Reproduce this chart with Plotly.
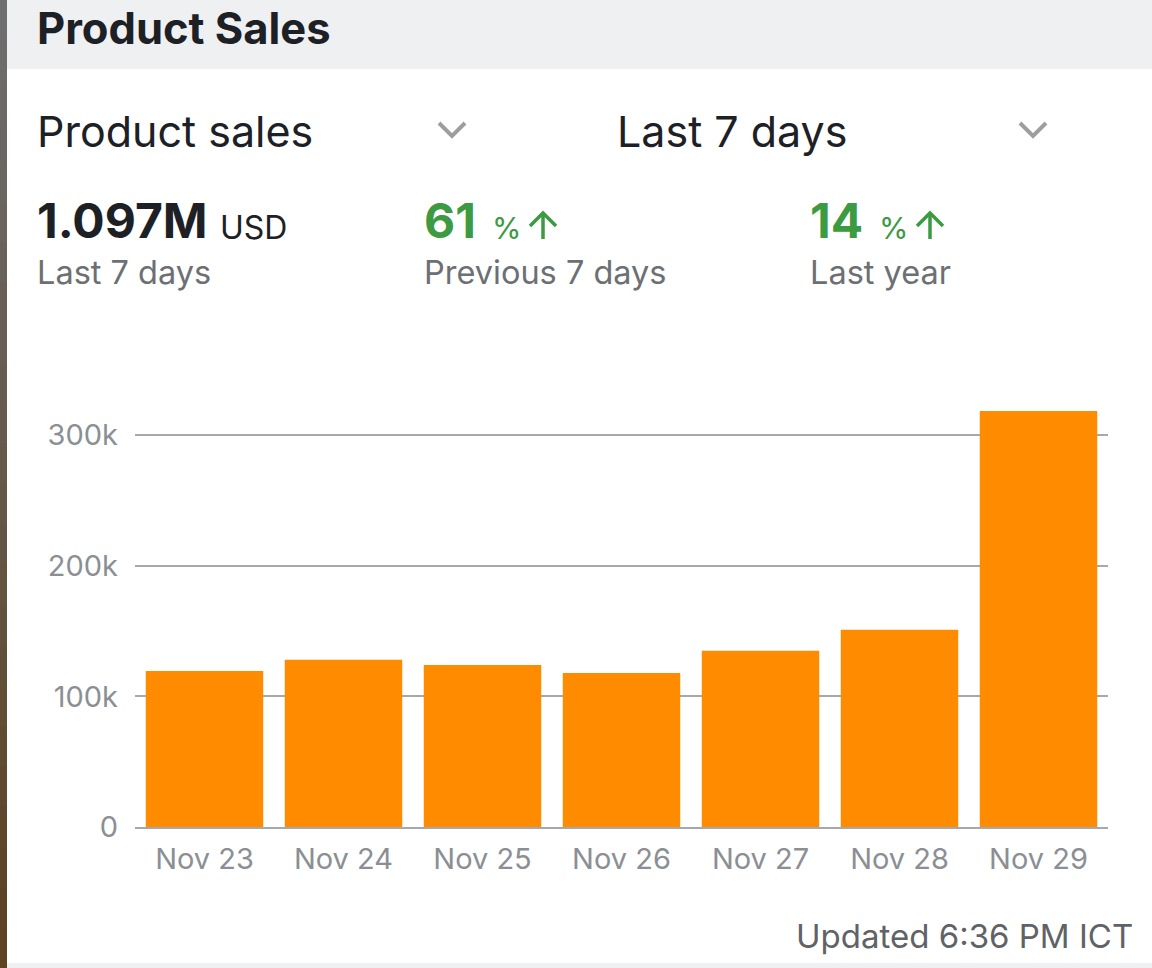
import plotly.graph_objects as go

# ---- data ----
dates = ["Nov 23", "Nov 24", "Nov 25", "Nov 26", "Nov 27", "Nov 28", "Nov 29"]
sales = [119500, 128000, 124000, 118000, 135000, 151000, 318500]
ytick_vals = [0, 100000, 200000, 300000]
ytick_text = ["0", "100k", "200k", "300k"]

W, H = 1152, 968
L, R = 135, 1108          # plot area x pixels
TOP, BOT = 383, 827       # plot area y pixels
YMAX = 340000

def px(x):
    return (x - L) / (R - L)

def py(y):
    return (BOT - y) / (BOT - TOP)

FONT = "Inter"
DARK = "#1d2125"
GRAY = "#6c6f73"
GREEN = "#3c9a41"

fig = go.Figure()
fig.add_trace(go.Bar(x=dates, y=sales, marker=dict(color="#ff8c00", line=dict(width=0)),
                     hoverinfo="x+y"))

shapes = []
# header band
shapes.append(dict(type="rect", xref="paper", yref="paper", x0=px(0), x1=px(W), y0=py(69), y1=py(0),
                   fillcolor="#eff0f2", line=dict(width=0), layer="below"))
# bottom band
shapes.append(dict(type="rect", xref="paper", yref="paper", x0=px(0), x1=px(W), y0=py(H), y1=py(963),
                   fillcolor="#eff0f2", line=dict(width=0), layer="below"))
# left stripe (gray to brown)
n = 24
c0 = (110, 110, 110)
c1 = (92, 67, 34)
for i in range(n):
    t = i / (n - 1)
    c = tuple(int(c0[k] + (c1[k] - c0[k]) * t) for k in range(3))
    shapes.append(dict(type="rect", xref="paper", yref="paper", x0=px(0), x1=px(7),
                       y0=py(H * (i + 1) / n + 1), y1=py(H * i / n),
                       fillcolor="rgb(%d,%d,%d)" % c, line=dict(width=0), layer="above"))
# chevrons
for cx in (452, 1033):
    path = "M %f %f L %f %f L %f %f" % (px(cx - 13), py(123), px(cx), py(136), px(cx + 13), py(123))
    shapes.append(dict(type="path", xref="paper", yref="paper", path=path,
                       line=dict(color="#9c9ea1", width=4)))
# up arrows
for ax in (543, 930):
    shapes.append(dict(type="line", xref="paper", yref="paper", x0=px(ax), x1=px(ax), y0=py(239), y1=py(213),
                       line=dict(color=GREEN, width=3.5)))
    path = "M %f %f L %f %f L %f %f" % (px(ax - 13), py(226), px(ax), py(213), px(ax + 13), py(226))
    shapes.append(dict(type="path", xref="paper", yref="paper", path=path,
                       line=dict(color=GREEN, width=3.5)))

ann = []
def text(x, y, s, size, color, anchor="left", bold=False):
    ann.append(dict(xref="paper", yref="paper", x=px(x), y=py(y), text=("<b>%s</b>" % s) if bold else s,
                    showarrow=False, xanchor=anchor, yanchor="middle",
                    font=dict(family=FONT, size=size, color=color)))

text(35, 28, "Product Sales", 43.5, DARK, bold=True)
text(35, 131, "Product sales", 43, DARK)
text(615, 131, "Last 7 days", 43, DARK)

text(35, 221, "1.097M", 48, DARK, bold=True)
text(218, 228, "USD", 32, DARK)
text(422, 221, "61", 48, GREEN, bold=True)
text(490, 228, "%", 30, GREEN)
text(808, 221, "14", 48, GREEN, bold=True)
text(877, 228, "%", 30, GREEN)

text(35, 272, "Last 7 days", 32.5, GRAY)
text(422, 272, "Previous 7 days", 32.5, GRAY)
text(808, 272, "Last year", 32.5, GRAY)

text(1135, 936, "Updated 6:36 PM ICT", 33, "#5f6266", anchor="right")

fig.update_layout(
    width=W, height=H,
    margin=dict(l=L, r=W - R, t=TOP, b=H - BOT, pad=0),
    paper_bgcolor="white", plot_bgcolor="white",
    showlegend=False, bargap=0.155,
    shapes=shapes, annotations=ann,
    font=dict(family=FONT),
)
fig.update_xaxes(showgrid=False, showline=True, linecolor="#a5a8ac", linewidth=2,
                 ticks="", tickfont=dict(family=FONT, size=29, color="#8b8f94"),
                 ticklabelstandoff=5, fixedrange=True)
fig.update_yaxes(range=[0, YMAX], tickvals=ytick_vals, ticktext=ytick_text,
                 showgrid=True, gridcolor="#a5a8ac", gridwidth=2, zeroline=False,
                 showline=False, ticks="", tickfont=dict(family=FONT, size=29, color="#8b8f94"),
                 ticklabelstandoff=16, fixedrange=True)

fig.write_html("out.html", config={"displayModeBar": False},
               post_script="document.body.style.margin='0';document.body.style.overflow='hidden';")
